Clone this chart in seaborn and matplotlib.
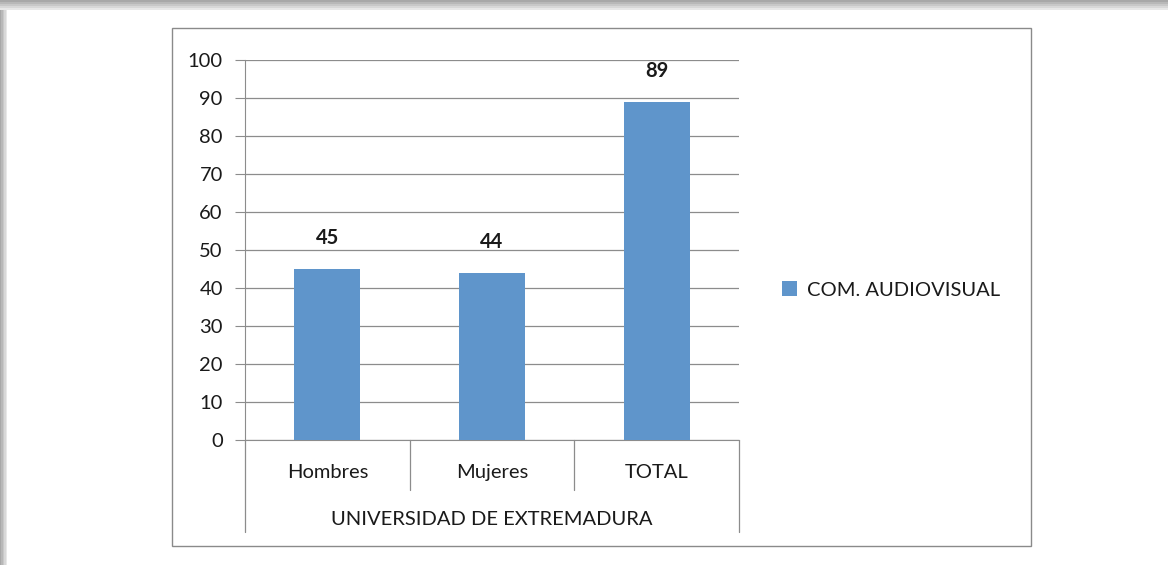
import numpy as np
import pandas as pd
import matplotlib
matplotlib.use("Agg")
import matplotlib.pyplot as plt
import matplotlib.transforms as mtransforms
from matplotlib.patches import Rectangle
import seaborn as sns

# data
categories = ["Hombres", "Mujeres", "TOTAL"]
values = [45, 44, 89]
series_name = "COM. AUDIOVISUAL"
group_label = "UNIVERSIDAD DE EXTREMADURA"
y_ticks = list(range(0, 101, 10))

bar_color = "#5F95CB"
grid_color = "#8c8c8c"
fs = 14.5

df = pd.DataFrame({"categoria": categories, "valor": values, "serie": series_name})

sns.set_style("white")
plt.rcParams["font.family"] = ["Lato", "DejaVu Sans"]

fig = plt.figure(figsize=(11.68, 5.65), dpi=100)
fig.patch.set_facecolor("white")

# shadow band of the screenshot (top and left)
for i, c in enumerate(["#a8a8a8", "#b8b8b8", "#c8c8c8", "#d8d8d8", "#e8e8e8"]):
    fig.patches.append(Rectangle((0, 1 - (i + 1) * 0.0035), 1, 0.0035, transform=fig.transFigure,
                                 facecolor=c, edgecolor="none", zorder=0))
    fig.patches.append(Rectangle((i * 0.0012, 0), 0.0012, 0.982, transform=fig.transFigure,
                                 facecolor=c, edgecolor="none", zorder=0))

# chart area frame
fig.patches.append(Rectangle((0.1473, 0.0336), 0.7354, 0.9168, transform=fig.transFigure,
                             facecolor="none", edgecolor="#8a8a8a", linewidth=1.0, zorder=1))

ax = fig.add_axes([0.2098, 0.2212, 0.4229, 0.6726])
sns.barplot(data=df, x="categoria", y="valor", hue="serie", palette=[bar_color],
            width=0.4, saturation=1, linewidth=0, ax=ax, zorder=3)

ax.set_ylim(0, 100)
ax.set_xlim(-0.5, 2.5)
ax.set_yticks(y_ticks)
ax.yaxis.grid(True, color=grid_color, linewidth=0.9)
ax.set_axisbelow(True)
for s in ["top", "right"]:
    ax.spines[s].set_visible(False)
ax.spines["left"].set_color(grid_color)
ax.spines["bottom"].set_color(grid_color)
ax.tick_params(axis="y", direction="out", length=7, color=grid_color, labelsize=fs,
               labelcolor="#1a1a1a", pad=9, left=True)
ax.tick_params(axis="x", length=0, pad=17, labelsize=fs, labelcolor="#1a1a1a")
ax.set_xlabel("")
ax.set_ylabel("")

# value labels
for cont in ax.containers:
    ax.bar_label(cont, labels=[str(v) for v in values], padding=15,
                 fontsize=fs, fontweight="bold", color="#1a1a1a")

# category separators below axis
trans = mtransforms.blended_transform_factory(ax.transData, ax.transAxes)
edges = np.arange(len(categories) + 1) - 0.5
for k, e in enumerate(edges):
    low = -0.242 if k in (0, len(edges) - 1) else -0.132
    ax.plot([e, e], [0, low], transform=trans, color=grid_color, linewidth=0.9, clip_on=False)

ax.text(0.5, -0.208, group_label, transform=ax.transAxes, ha="center", va="center",
        fontsize=fs, color="#1a1a1a")

# legend
leg = ax.legend(loc="center left", bbox_to_anchor=(1.05, 0.395), frameon=False,
                fontsize=fs, handlelength=0.75, handleheight=0.75, handletextpad=0.5)
for t in leg.get_texts():
    t.set_color("#1a1a1a")

fig.savefig("out.png", dpi=100, facecolor="white")
